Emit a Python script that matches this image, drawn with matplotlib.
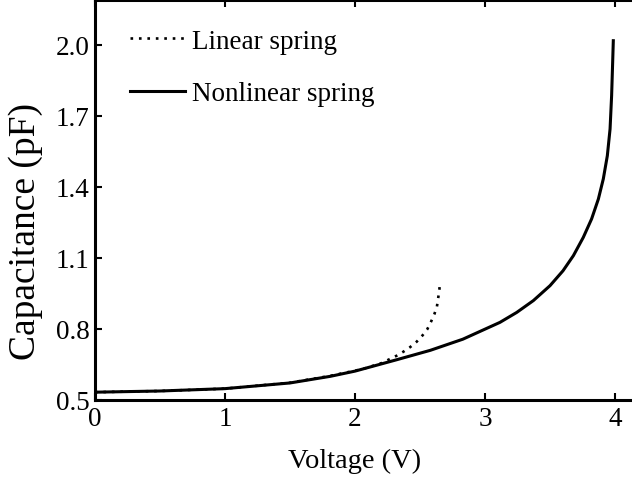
import matplotlib
matplotlib.use("Agg")
import matplotlib.pyplot as plt

# Capacitance versus drive voltage for the two spring models
v_nonlinear = [0.0, 0.5, 1.0, 1.5, 1.81, 2.0, 2.32, 2.58, 2.83, 3.115, 3.244,
               3.372, 3.5, 3.6, 3.68, 3.756, 3.82, 3.872, 3.91, 3.941, 3.962,
               3.974, 3.982, 3.987]
c_nonlinear = [0.533, 0.538, 0.548, 0.572, 0.600, 0.622, 0.670, 0.710, 0.757,
               0.828, 0.870, 0.920, 0.983, 1.046, 1.110, 1.187, 1.265, 1.349,
               1.434, 1.532, 1.645, 1.786, 1.927, 2.018]

v_linear = [0.0, 0.5, 1.0, 1.5, 1.81, 2.026, 2.085, 2.141, 2.205, 2.264, 2.32,
            2.372, 2.423, 2.474, 2.518, 2.556, 2.585, 2.61, 2.63, 2.64, 2.649,
            2.654]
c_linear = [0.533, 0.538, 0.548, 0.573, 0.602, 0.627, 0.635, 0.645, 0.656,
            0.672, 0.687, 0.704, 0.723, 0.746, 0.772, 0.799, 0.831, 0.862,
            0.894, 0.931, 0.966, 1.001]

x_ticks = [0, 1, 2, 3, 4]
y_ticks = [0.5, 0.8, 1.1, 1.4, 1.7, 2.0]

plt.rcParams['font.family'] = ['Liberation Serif', 'DejaVu Serif']
FS = 19.5

fig = plt.figure(figsize=(6.32, 4.81), dpi=100)
ax = fig.add_axes([95 / 632, 80 / 481, 546 / 632, 400 / 481])

ax.plot(v_linear, c_linear, color='black', lw=1.9,
        linestyle=(0, (1, 2.2)), label='Linear spring')
ax.plot(v_nonlinear, c_nonlinear, color='black', lw=2.2,
        label='Nonlinear spring')

ax.set_xlim(0, 4.2)
ax.set_ylim(0.5, 2.19)
ax.set_xticks(x_ticks)
ax.set_xticklabels([str(t) for t in x_ticks])
ax.set_yticks(y_ticks)
ax.set_yticklabels([f"{t:.1f}" for t in y_ticks])

for s in ax.spines.values():
    s.set_linewidth(2.2)
ax.spines['right'].set_visible(False)
ax.tick_params(direction='in', length=5, width=1.5, labelsize=FS,
               top=True, right=False, pad=4)

fig.text(355 / 632, 1 - 468 / 481, 'Voltage (V)', fontsize=20.5,
         ha='center', va='baseline')
fig.text(26 / 632, 1 - 232 / 481, 'Capacitance (pF)', fontsize=27,
         rotation=90, ha='center', va='center')

ax.legend(loc='upper left', bbox_to_anchor=(0.044, 0.955), frameon=False,
          fontsize=FS, handlelength=2.05, handletextpad=0.25,
          labelspacing=1.02, borderaxespad=0)

fig.savefig('out.png', dpi=100)
